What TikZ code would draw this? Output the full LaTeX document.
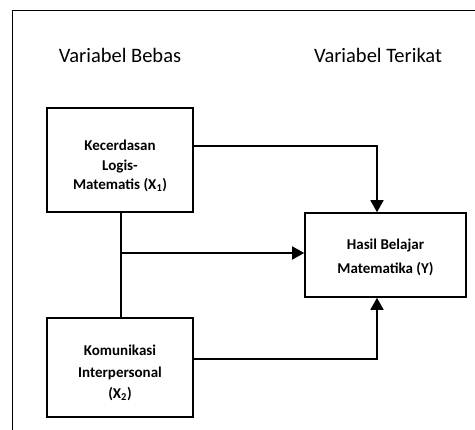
\documentclass[tikz,border=0pt]{standalone}
\usepackage{fontspec}
\setmainfont{Carlito}
\usetikzlibrary{arrows.meta}
\begin{document}
\begin{tikzpicture}[x=1pt,y=-1pt,
  box/.style={draw,line width=1.6pt,minimum width=146pt,inner sep=0pt},
  bf/.style={align=center,inner sep=0pt,font=\bfseries\fontsize{15}{#1}\selectfont},
  head/.style={font=\fontsize{20.5}{24}\selectfont},
  conn/.style={line width=1.6pt,-{Triangle[length=12pt,width=13pt]}}]
\useasboundingbox (0,0) rectangle (475,430);
\draw[line width=0.9pt] (12,440) -- (12,10) -- (490,10);
\node[head] (hb) at (120,55) {Variabel Bebas};
\node[head] (ht) at (378,55) {Variabel Terikat};
\node[box,minimum height=104pt] (x1) at (120,160) {};
\node[bf=19.5] (x1t) at (120,166) {Kecerdasan\\Logis-\\Matematis (X\textsubscript{1})};
\node[box,minimum height=99pt] (x2) at (120,367.5) {};
\node[bf=21.5] (x2t) at (120,373) {Komunikasi\\Interpersonal\\(X\textsubscript{2})};
\node[box,minimum width=161pt,minimum height=84pt] (y) at (385.5,255) {};
\node[bf=24] (yt) at (385.5,257) {Hasil Belajar\\Matematika (Y)};
\coordinate (j) at (121,253);
\draw[line width=1.6pt] (x1.south -| j) -- (x2.north -| j);
\draw[conn] (j) -- (j -| y.west);
\draw[conn] (x1.east |- 0,146) -- (377,146) -- (y.north -| 377,0);
\draw[conn] (x2.east |- 0,359) -- (377,359) -- (y.south -| 377,0);
\end{tikzpicture}
\end{document}
